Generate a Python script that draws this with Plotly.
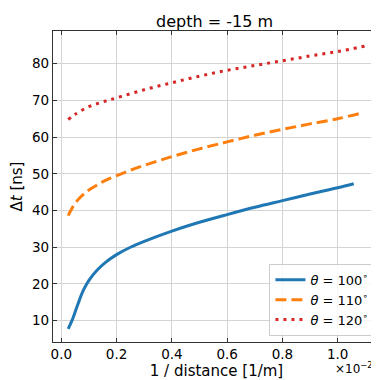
import plotly.graph_objects as go

# 1 / distance in units of 1e-2 [1/m]
x_100 = [0.025, 0.04, 0.06, 0.08, 0.10, 0.13, 0.16, 0.20, 0.25, 0.30, 0.40, 0.50, 0.60, 0.70, 0.80, 0.90, 1.00, 1.058]
dt_100 = [7.8, 10.3, 14.5, 18.3, 21.0, 23.8, 25.9, 28.0, 30.0, 31.6, 34.4, 36.8, 38.9, 40.9, 42.7, 44.5, 46.2, 47.3]

x_110 = [0.025, 0.04, 0.06, 0.08, 0.10, 0.13, 0.16, 0.20, 0.25, 0.30, 0.40, 0.50, 0.60, 0.70, 0.80, 0.90, 1.00, 1.078]
dt_110 = [38.6, 40.8, 42.9, 44.4, 45.6, 47.0, 48.2, 49.5, 51.0, 52.3, 54.7, 56.8, 58.7, 60.5, 62.1, 63.6, 65.0, 66.4]

x_120 = [0.025, 0.05, 0.10, 0.15, 0.20, 0.30, 0.40, 0.50, 0.60, 0.70, 0.80, 0.90, 1.00, 1.099]
dt_120 = [64.8, 66.2, 68.3, 69.6, 70.7, 72.9, 74.8, 76.6, 78.2, 79.5, 80.8, 82.1, 83.3, 84.8]

names = ["<i>θ</i> = 100<sup>∘</sup>", "<i>θ</i> = 110<sup>∘</sup>", "<i>θ</i> = 120<sup>∘</sup>"]
colors = ["#1f77b4", "#ff7f0e", "#d62728"]
dashes = ["solid", "11px,5px", "3px,5px"]

fig = go.Figure()
for xs, ys, nm, c, d in zip([x_100, x_110, x_120], [dt_100, dt_110, dt_120], names, colors, dashes):
    fig.add_trace(go.Scatter(x=xs, y=ys, mode="lines", name=nm,
                             line=dict(color=c, width=3, dash=d, shape="spline")))

axis_common = dict(showline=True, linecolor="#333333", linewidth=1.2, mirror="ticks",
                   ticks="inside", ticklen=4, tickcolor="#333333",
                   showgrid=True, gridcolor="#d4d4d4", gridwidth=1, zeroline=False,
                   tickfont=dict(size=13.5, color="black"))

fig.update_layout(
    width=379, height=380,
    margin=dict(l=45, r=7, t=23, b=46),
    paper_bgcolor="white", plot_bgcolor="white",
    font=dict(family="DejaVu Sans", color="black"),
    title=dict(text="depth = -15 m", x=0.545, xanchor="center", y=0.966, yanchor="middle",
               font=dict(size=16)),
    xaxis=dict(range=[-0.030, 1.153], tickvals=[0, 0.2, 0.4, 0.6, 0.8, 1.0],
               ticktext=["0.0", "0.2", "0.4", "0.6", "0.8", "1.0"],
               title=dict(text="1 / distance [1/m]", font=dict(size=15), standoff=3), **axis_common),
    yaxis=dict(range=[4.2, 88.9], tickvals=[10, 20, 30, 40, 50, 60, 70, 80],
               title=dict(text="Δ<i>t</i> [ns]", font=dict(size=15), standoff=5), **axis_common),
    legend=dict(x=0.983, xanchor="right", y=0.02, yanchor="bottom",
                bgcolor="rgba(255,255,255,0.8)", bordercolor="#cccccc", borderwidth=1,
                font=dict(size=13), tracegroupgap=0),
    showlegend=True,
)

fig.add_annotation(text="×10<sup>−2</sup>", xref="paper", yref="paper", x=0.985, y=-0.052,
                   xanchor="right", yanchor="top", showarrow=False, font=dict(size=12))

fig.write_html("out.html")
